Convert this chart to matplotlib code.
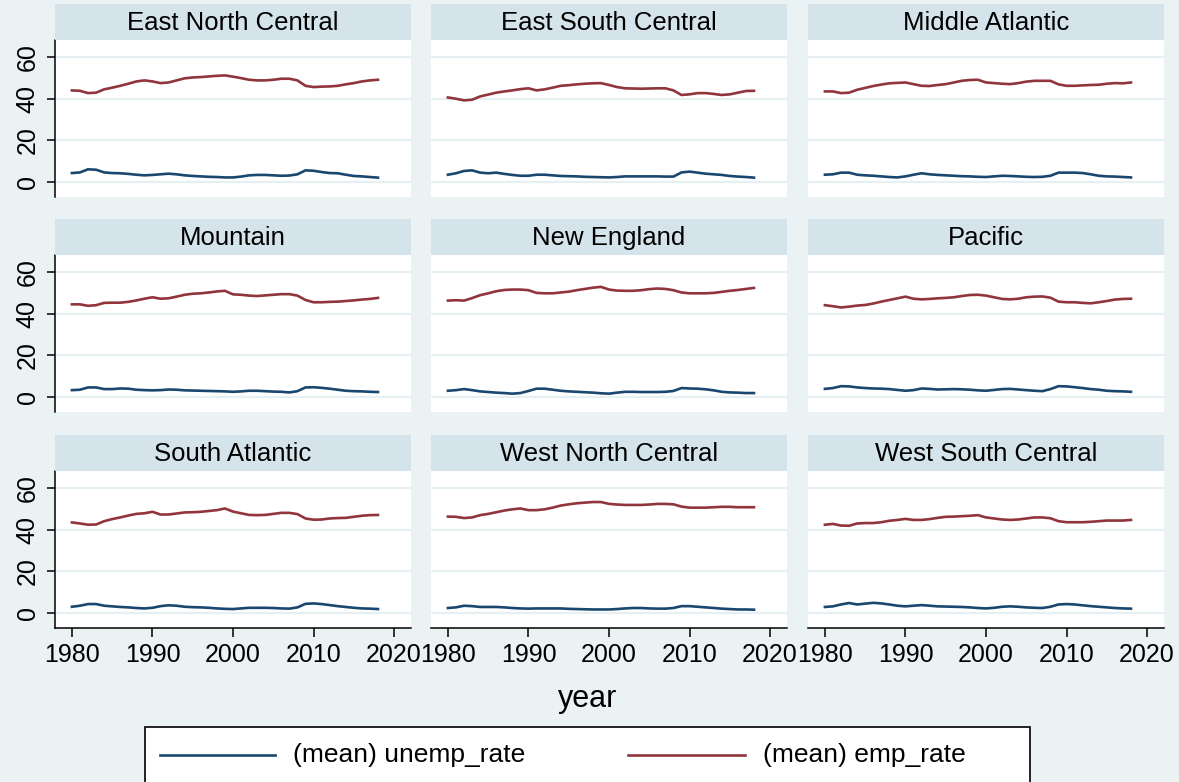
import matplotlib
matplotlib.use('Agg')
import matplotlib.pyplot as plt
from matplotlib.patches import Rectangle
from matplotlib.lines import Line2D
import numpy as np

plt.rcParams['font.family'] = ['Liberation Sans', 'DejaVu Sans']

years = list(range(1980, 2019))
regions = ['East North Central', 'East South Central', 'Middle Atlantic',
           'Mountain', 'New England', 'Pacific',
           'South Atlantic', 'West North Central', 'West South Central']

# (mean) emp_rate by region, 1980-2018
emp_enc = [44.0, 43.8, 42.7, 42.9, 44.5, 45.3, 46.2, 47.2, 48.3, 48.8,
           48.3, 47.5, 47.8, 48.8, 49.8, 50.2, 50.4, 50.7, 51.0, 51.2,
           50.6, 49.9, 49.1, 48.8, 48.8, 49.1, 49.6, 49.6, 48.8, 46.2,
           45.6, 45.8, 45.9, 46.2, 46.9, 47.5, 48.3, 48.8, 49.1]
emp_esc = [40.6, 40.0, 39.2, 39.5, 41.1, 42.0, 42.9, 43.5, 44.0, 44.6,
           45.0, 44.0, 44.5, 45.3, 46.2, 46.5, 46.9, 47.2, 47.4, 47.5,
           46.6, 45.6, 45.0, 44.9, 44.8, 44.9, 45.0, 45.0, 44.0, 41.8,
           42.1, 42.7, 42.7, 42.3, 41.8, 42.1, 42.9, 43.7, 43.8]
emp_ma = [43.5, 43.5, 42.7, 42.9, 44.3, 45.2, 46.1, 46.8, 47.4, 47.6,
          47.8, 47.0, 46.2, 46.1, 46.6, 47.0, 47.8, 48.6, 49.0, 49.1,
          47.8, 47.5, 47.2, 47.0, 47.5, 48.2, 48.6, 48.6, 48.6, 46.9,
          46.2, 46.2, 46.4, 46.6, 46.7, 47.2, 47.5, 47.4, 47.8]
emp_mtn = [44.5, 44.5, 43.8, 44.1, 45.2, 45.3, 45.3, 45.7, 46.4, 47.2,
           47.9, 47.2, 47.4, 48.2, 49.1, 49.6, 49.8, 50.2, 50.7, 51.0,
           49.3, 49.1, 48.7, 48.5, 48.8, 49.1, 49.4, 49.4, 48.7, 46.6,
           45.5, 45.5, 45.7, 45.8, 46.1, 46.4, 46.8, 47.1, 47.6]
emp_ne = [46.3, 46.5, 46.3, 47.5, 48.9, 49.8, 50.8, 51.4, 51.6, 51.6,
          51.3, 50.0, 49.8, 49.8, 50.2, 50.6, 51.3, 51.9, 52.5, 52.9,
          51.6, 51.1, 51.0, 51.0, 51.3, 51.8, 52.1, 51.9, 51.3, 50.2,
          49.8, 49.8, 49.8, 50.0, 50.5, 51.0, 51.4, 51.9, 52.4]
emp_pac = [44.1, 43.6, 43.0, 43.4, 43.9, 44.2, 44.9, 45.8, 46.6, 47.4,
           48.2, 47.2, 46.9, 47.1, 47.4, 47.6, 47.9, 48.5, 49.0, 49.1,
           48.7, 47.9, 47.1, 46.9, 47.2, 47.9, 48.2, 48.3, 47.7, 45.8,
           45.5, 45.5, 45.2, 45.0, 45.5, 46.1, 46.8, 47.1, 47.2]
emp_sa = [43.5, 43.0, 42.4, 42.5, 44.1, 45.1, 45.9, 46.8, 47.6, 47.9,
          48.6, 47.3, 47.3, 47.8, 48.3, 48.4, 48.6, 49.0, 49.4, 50.2,
          48.7, 47.9, 47.1, 47.0, 47.1, 47.6, 48.1, 48.1, 47.5, 45.4,
          44.8, 44.9, 45.4, 45.6, 45.7, 46.2, 46.7, 47.0, 47.1]
emp_wnc = [46.3, 46.2, 45.6, 45.9, 47.0, 47.6, 48.4, 49.2, 49.8, 50.2,
           49.4, 49.4, 49.8, 50.6, 51.6, 52.2, 52.7, 53.0, 53.3, 53.3,
           52.4, 52.1, 51.9, 51.9, 51.9, 52.1, 52.4, 52.4, 52.2, 51.1,
           50.6, 50.6, 50.6, 50.8, 51.0, 51.0, 50.8, 50.8, 50.8]
emp_wsc = [42.4, 42.8, 42.0, 41.9, 43.0, 43.2, 43.2, 43.6, 44.3, 44.7,
           45.2, 44.7, 44.7, 45.1, 45.7, 46.2, 46.3, 46.5, 46.7, 47.0,
           45.9, 45.4, 44.9, 44.7, 44.9, 45.4, 45.9, 45.9, 45.5, 44.1,
           43.6, 43.6, 43.6, 43.8, 44.1, 44.4, 44.4, 44.4, 44.7]

# (mean) unemp_rate by region, 1980-2018
unemp_enc = [4.3, 4.6, 6.1, 5.9, 4.6, 4.3, 4.2, 3.9, 3.5, 3.2,
             3.4, 3.7, 4.0, 3.7, 3.2, 2.9, 2.7, 2.5, 2.4, 2.2,
             2.2, 2.6, 3.2, 3.4, 3.4, 3.2, 3.0, 3.1, 3.7, 5.6,
             5.4, 4.8, 4.3, 4.2, 3.5, 2.9, 2.7, 2.4, 2.1]
unemp_esc = [3.5, 4.2, 5.3, 5.6, 4.5, 4.2, 4.5, 3.9, 3.4, 3.0,
             3.0, 3.5, 3.5, 3.2, 2.9, 2.8, 2.7, 2.5, 2.4, 2.3,
             2.2, 2.4, 2.7, 2.7, 2.7, 2.7, 2.7, 2.6, 2.6, 4.6,
             5.0, 4.5, 4.0, 3.7, 3.4, 2.9, 2.6, 2.4, 2.1]
unemp_ma = [3.5, 3.7, 4.5, 4.5, 3.5, 3.2, 3.0, 2.7, 2.4, 2.2,
            2.7, 3.5, 4.2, 3.7, 3.4, 3.2, 3.0, 2.8, 2.7, 2.5,
            2.4, 2.7, 3.0, 2.9, 2.7, 2.5, 2.4, 2.5, 3.0, 4.5,
            4.5, 4.5, 4.3, 3.7, 3.0, 2.7, 2.6, 2.4, 2.2]
unemp_mtn = [3.3, 3.5, 4.6, 4.6, 3.8, 3.8, 4.1, 4.0, 3.5, 3.3,
             3.2, 3.3, 3.6, 3.5, 3.2, 3.1, 3.0, 2.9, 2.8, 2.7,
             2.5, 2.7, 3.0, 3.0, 2.8, 2.6, 2.5, 2.2, 2.8, 4.6,
             4.7, 4.4, 4.0, 3.5, 3.0, 2.8, 2.7, 2.5, 2.4]
unemp_ne = [3.0, 3.3, 3.8, 3.3, 2.7, 2.4, 2.1, 1.9, 1.6, 1.9,
            2.9, 4.0, 4.0, 3.5, 3.0, 2.7, 2.5, 2.3, 2.1, 1.8,
            1.6, 2.1, 2.5, 2.5, 2.4, 2.4, 2.4, 2.5, 2.9, 4.3,
            4.1, 4.0, 3.7, 3.2, 2.5, 2.2, 2.1, 1.9, 1.9]
unemp_pac = [3.9, 4.3, 5.2, 5.1, 4.6, 4.3, 4.1, 4.0, 3.8, 3.4,
             3.0, 3.3, 4.1, 3.9, 3.6, 3.7, 3.8, 3.7, 3.5, 3.2,
             3.0, 3.4, 3.8, 3.9, 3.6, 3.3, 3.0, 2.8, 3.8, 5.2,
             5.1, 4.7, 4.3, 3.8, 3.5, 3.0, 2.8, 2.7, 2.5]
unemp_sa = [3.0, 3.5, 4.3, 4.3, 3.5, 3.2, 2.9, 2.7, 2.4, 2.2,
            2.5, 3.3, 3.7, 3.5, 3.0, 2.8, 2.7, 2.5, 2.2, 2.0,
            1.9, 2.2, 2.5, 2.5, 2.5, 2.4, 2.2, 2.1, 2.7, 4.4,
            4.6, 4.3, 3.8, 3.3, 2.9, 2.5, 2.2, 2.1, 1.9]
unemp_wnc = [2.4, 2.7, 3.5, 3.3, 2.9, 2.9, 2.9, 2.7, 2.4, 2.2,
             2.1, 2.2, 2.2, 2.2, 2.2, 2.0, 1.9, 1.8, 1.7, 1.7,
             1.7, 1.9, 2.2, 2.4, 2.4, 2.2, 2.1, 2.1, 2.4, 3.3,
             3.3, 3.0, 2.7, 2.4, 2.1, 1.9, 1.7, 1.7, 1.6]
unemp_wsc = [2.9, 3.2, 4.1, 4.8, 4.1, 4.5, 4.9, 4.6, 4.1, 3.5,
             3.2, 3.5, 3.8, 3.5, 3.2, 3.1, 3.0, 2.9, 2.7, 2.4,
             2.2, 2.5, 3.0, 3.2, 3.0, 2.7, 2.5, 2.4, 3.0, 4.1,
             4.3, 4.1, 3.7, 3.3, 3.0, 2.7, 2.4, 2.2, 2.1]

emp = [emp_enc, emp_esc, emp_ma, emp_mtn, emp_ne, emp_pac, emp_sa, emp_wnc, emp_wsc]
unemp = [unemp_enc, unemp_esc, unemp_ma, unemp_mtn, unemp_ne, unemp_pac, unemp_sa, unemp_wnc, unemp_wsc]

yticks = [0, 20, 40, 60]
xticks = [1980, 1990, 2000, 2010, 2020]

bg = '#eaf2f3'
strip_col = '#d5e4ea'
grid_col = '#e6eff1'
navy = '#1a476f'
maroon = '#90353b'

W, H = 1179, 782
fig = plt.figure(figsize=(W / 100, H / 100), dpi=100)
fig.patch.set_facecolor(bg)

col_left = [55, 431, 808]
row_top = [40, 255, 471]
pw, ph, sh = 356, 157, 36

for k, name in enumerate(regions):
    r, c = divmod(k, 3)
    x0 = col_left[c]
    y0 = row_top[r]
    ax = fig.add_axes([x0 / W, 1 - (y0 + ph) / H, pw / W, ph / H])
    ax.set_facecolor('white')
    for yv in yticks:
        ax.axhline(yv, color=grid_col, lw=1.6, zorder=0)
    ax.plot(years, unemp[k], color=navy, lw=1.9)
    ax.plot(years, emp[k], color=maroon, lw=1.9)
    ax.set_xlim(1977.9, 2022.1)
    ax.set_ylim(-7.2, 68.2)
    ax.set_xticks(xticks)
    ax.set_yticks(yticks)
    for s in ['top', 'right']:
        ax.spines[s].set_visible(False)
    ax.spines['left'].set_visible(c == 0)
    ax.spines['bottom'].set_visible(r == 2)
    ax.spines['left'].set_linewidth(1.1)
    ax.spines['bottom'].set_linewidth(1.1)
    ax.tick_params(axis='x', length=6.5 if r == 2 else 0, width=1.1,
                   labelbottom=(r == 2), labelsize=18, pad=4)
    ax.tick_params(axis='y', length=6 if c == 0 else 0, width=1.1,
                   labelleft=(c == 0), labelsize=18, pad=5)
    if c == 0:
        for lab in ax.get_yticklabels():
            lab.set_rotation(90)
            lab.set_va('center')

    sax = fig.add_axes([x0 / W, 1 - y0 / H, pw / W, sh / H])
    sax.set_facecolor(strip_col)
    sax.set_xticks([])
    sax.set_yticks([])
    for s in sax.spines.values():
        s.set_visible(False)
    sax.text(0.5, 0.48, name, ha='center', va='center', fontsize=18.5,
             transform=sax.transAxes)

fig.text(588 / W, 1 - 699 / H, 'year', ha='center', va='center', fontsize=22)

# legend box, cut off at the bottom edge like the original
fig.patches.append(Rectangle((145 / W, -0.05), (1030 - 145) / W, 0.05 + 1 - 727 / H,
                             transform=fig.transFigure, facecolor='white',
                             edgecolor='black', lw=1.2))
ly = 1 - 755 / H
fig.lines.append(Line2D([160 / W, 275 / W], [ly, ly], color=navy, lw=1.9,
                        transform=fig.transFigure))
fig.lines.append(Line2D([628 / W, 745 / W], [ly, ly], color=maroon, lw=1.9,
                        transform=fig.transFigure))
fig.text(293 / W, ly, '(mean) unemp_rate', ha='left', va='center', fontsize=19)
fig.text(763 / W, ly, '(mean) emp_rate', ha='left', va='center', fontsize=19)

fig.savefig('out.png', dpi=100, facecolor=bg)
